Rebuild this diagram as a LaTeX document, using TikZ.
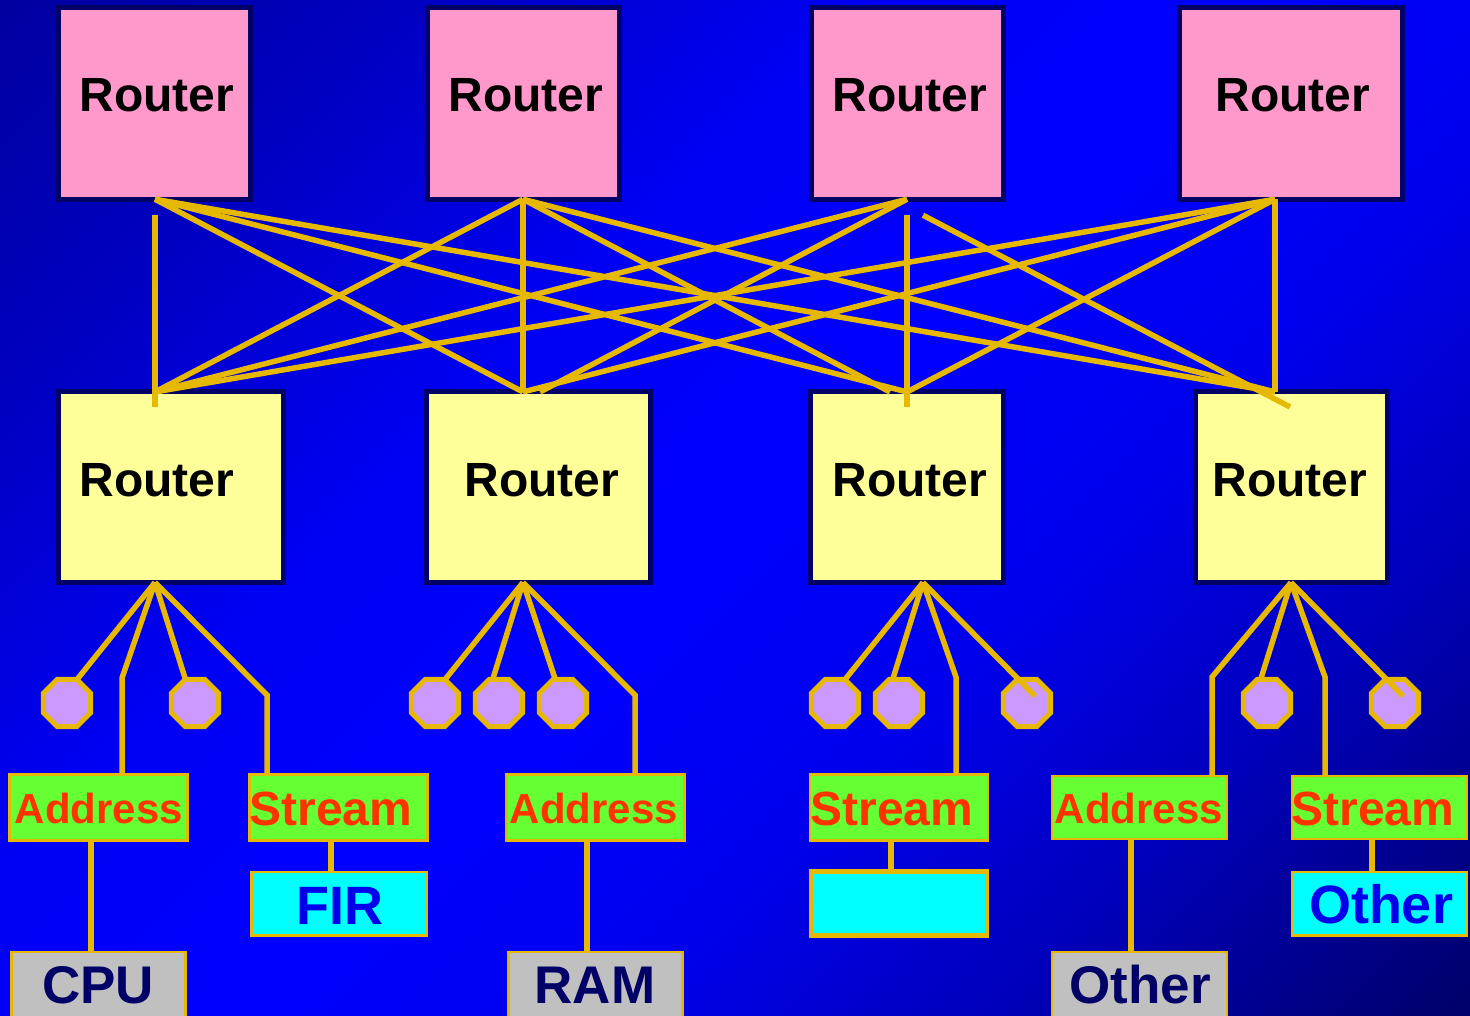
\documentclass[tikz,border=0pt]{standalone}
\usepackage{fontspec}
\setmainfont{Liberation Sans}
\usetikzlibrary{shapes.geometric,calc}

\definecolor{navyb}{RGB}{0,0,102}
\definecolor{goldl}{RGB}{230,184,0}
\definecolor{pinkr}{RGB}{255,153,204}
\definecolor{yellr}{RGB}{255,255,153}
\definecolor{greenb}{RGB}{102,255,51}
\definecolor{redt}{RGB}{255,51,0}
\definecolor{cyanb}{RGB}{0,255,255}
\definecolor{bluet}{RGB}{0,0,235}
\definecolor{grayb}{RGB}{192,192,192}
\definecolor{lav}{RGB}{204,153,255}
\definecolor{bgA}{RGB}{0,0,160}
\definecolor{bgB}{RGB}{0,0,190}
\definecolor{bgC}{RGB}{0,0,245}
\definecolor{bgD}{RGB}{0,0,255}
\definecolor{bgE}{RGB}{0,0,238}
\definecolor{bgF}{RGB}{0,0,190}
\definecolor{bgG}{RGB}{0,0,105}

\pgfdeclarehorizontalshading{bgshade}{100bp}{color(0bp)=(bgA); color(14.6bp)=(bgA); color(25.2bp)=(bgB); color(39.4bp)=(bgC); color(50bp)=(bgD); color(60.6bp)=(bgE); color(71.2bp)=(bgF); color(85.4bp)=(bgG); color(100bp)=(bgG)}

\tikzset{
  rtop/.style={draw=navyb, line width=5pt, fill=pinkr, inner sep=0pt, outer sep=0pt, minimum height=191.7pt},
  rbot/.style={draw=navyb, line width=5pt, fill=yellr, inner sep=0pt, outer sep=0pt, minimum height=190.5pt},
  rtext/.style={font=\fontsize{48}{50}\selectfont\bfseries, text=black, inner sep=0pt, anchor=base},
  gbox/.style={draw=goldl, line width=2.8pt, fill=greenb, inner sep=0pt, outer sep=0pt},
  cbox/.style={draw=goldl, line width=2.8pt, fill=cyanb, inner sep=0pt, outer sep=0pt},
  ybox/.style={draw=goldl, line width=2.8pt, fill=grayb, inner sep=0pt, outer sep=0pt},
  addrtext/.style={font=\fontsize{42}{44}\selectfont\bfseries, text=redt, inner sep=0pt, anchor=base},
  strmtext/.style={font=\fontsize{48}{50}\selectfont\bfseries, text=redt, inner sep=0pt, anchor=base},
  cyantext/.style={font=\fontsize{54}{56}\selectfont\bfseries, text=bluet, inner sep=0pt, anchor=base},
  graytext/.style={font=\fontsize{53}{55}\selectfont\bfseries, text=navyb, inner sep=0pt, anchor=base},
  oct/.style={regular polygon, regular polygon sides=8, draw=goldl, line width=5pt, fill=lav, minimum size=51pt, inner sep=0pt, outer sep=0pt},
  wire/.style={draw=goldl, line width=5.5pt}
}

\begin{document}
\begin{tikzpicture}[x=1pt, y=-1pt]
\useasboundingbox (0,0) rectangle (1470,1016);
\begin{scope}
\clip (0,0) rectangle (1470,1016);
\shade[shading=bgshade, shading angle=-45] (0,0) rectangle (1470,1016);

% top routers
\node[rtop, minimum width=192pt] (tr1) at (154.6,103.4) {};
\node[rtop, minimum width=192pt] (tr2) at (523,103.4) {};
\node[rtop, minimum width=192pt] (tr3) at (907,103.4) {};
\node[rtop, minimum width=223pt] (tr4) at (1291,103.4) {};
\node[rtext] (tr1t) at (157,112) {Router};
\node[rtext] (tr2t) at (526,112) {Router};
\node[rtext] (tr3t) at (910,112) {Router};
\node[rtext] (tr4t) at (1293,112) {Router};

% bottom routers
\node[rbot, minimum width=225pt] (br1) at (171,487.2) {};
\node[rbot, minimum width=224pt] (br2) at (538.5,487.2) {};
\node[rbot, minimum width=193pt] (br3) at (907,487.2) {};
\node[rbot, minimum width=192pt] (br4) at (1291.5,487.2) {};
\node[rtext] (br1t) at (157,496) {Router};
\node[rtext] (br2t) at (542,496) {Router};
\node[rtext] (br3t) at (910,496) {Router};
\node[rtext] (br4t) at (1290,496) {Router};

% anchor points of the crossbar
\coordinate (t1) at (155,0 |- tr1.south);
\coordinate (t2) at (523,0 |- tr2.south);
\coordinate (t3) at (907,0 |- tr3.south);
\coordinate (t4) at (1275,0 |- tr4.south);
\coordinate (b1) at (155,0 |- br1.north);
\coordinate (b2) at (523,0 |- br2.north);
\coordinate (b3) at (907,0 |- br3.north);
\coordinate (b4) at (1275,0 |- br4.north);

% crossbar wires
\draw[wire] ($(t1)+(0,16)$) -- ($(b1)+(0,15)$);
\draw[wire] (t1) -- (b2);
\draw[wire] (t1) -- (b3);
\draw[wire] (t1) -- (b4);
\draw[wire] (t2) -- (b1);
\draw[wire] (t2) -- (b2);
\draw[wire] (t2) -- ($(b3)+(-17,0)$);
\draw[wire] (t2) -- (b4);
\draw[wire] (t3) -- (b1);
\draw[wire] (t3) -- ($(b2)+(17,0)$);
\draw[wire] ($(t3)+(0,16)$) -- ($(b3)+(0,15)$);
\draw[wire] ($(t3)+(16,16)$) -- ($(b4)+(15,15)$);
\draw[wire] (t4) -- (b1);
\draw[wire] (t4) -- (b2);
\draw[wire] (t4) -- (b3);
\draw[wire] (t4) -- (b4);

% octagons
\node[oct] (a1) at (67,703) {};
\node[oct] (a2) at (195,703) {};
\node[oct] (a3) at (435,703) {};
\node[oct] (a4) at (499,703) {};
\node[oct] (a5) at (563,703) {};
\node[oct] (a6) at (835,703) {};
\node[oct] (a7) at (899,703) {};
\node[oct] (a8) at (1027,703) {};
\node[oct] (a9) at (1267,703) {};
\node[oct] (a10) at (1395,703) {};

% green boxes
\node[gbox, minimum width=178pt, minimum height=66pt] (g1) at (98.5,807.5) {};
\node[gbox, minimum width=178pt, minimum height=66pt] (g2) at (338.5,807.5) {};
\node[gbox, minimum width=178pt, minimum height=66pt] (g3) at (595.5,807.5) {};
\node[gbox, minimum width=178pt, minimum height=66pt] (g4) at (899,807.5) {};
\node[gbox, minimum width=175pt, minimum height=63pt] (g5) at (1139.5,807.5) {};
\node[gbox, minimum width=175pt, minimum height=63pt] (g6) at (1379.5,807.5) {};
\node[addrtext] (g1t) at (99,823) {Address};
\node[strmtext] (g2t) at (331,825) {Stream};
\node[addrtext] (g3t) at (594,823) {Address};
\node[strmtext] (g4t) at (892,825) {Stream};
\node[addrtext] (g5t) at (1139,823) {Address};
\node[strmtext] (g6t) at (1373,825) {Stream};

% cyan boxes
\node[cbox, minimum width=175pt, minimum height=63.5pt] (c1) at (339,903.75) {};
\node[cbox, line width=4.8pt, minimum width=176pt, minimum height=64pt] (c2) at (899,903.5) {};
\node[cbox, minimum width=175pt, minimum height=63.5pt] (c3) at (1379.5,903.75) {};
\node[cyantext] (c1t) at (340,924) {FIR};
\node[cyantext] (c3t) at (1381,923) {Other};

% gray boxes
\node[ybox, minimum width=174pt, minimum height=78pt] (cpu) at (98.5,991) {};
\node[ybox, minimum width=174pt, minimum height=78pt] (ram) at (595.5,991) {};
\node[ybox, minimum width=175pt, minimum height=78pt] (oth) at (1139.5,991) {};
\node[graytext] (cput) at (98,1003) {CPU};
\node[graytext] (ramt) at (595,1003) {RAM};
\node[graytext] (otht) at (1140,1003) {Other};

% fan-out wires
\coordinate (f1) at (155,0 |- br1.south);
\coordinate (f2) at (523,0 |- br2.south);
\coordinate (f3) at (923,0 |- br3.south);
\coordinate (f4) at (1291,0 |- br4.south);

\draw[wire] (f1) -- (a1.67.5);
\draw[wire] (f1) -- (122,678) -- (122,0 |- g1.north);
\draw[wire] (f1) -- (a2.112.5);
\draw[wire] (f1) -- (267,695) -- (267,0 |- g2.north);

\draw[wire] (f2) -- (a3.67.5);
\draw[wire] (f2) -- (a4.105);
\draw[wire] (f2) -- (a5.108);
\draw[wire] (f2) -- (635,695) -- (635,0 |- g3.north);

\draw[wire] (f3) -- (a6.67.5);
\draw[wire] (f3) -- (a7.105);
\draw[wire] (f3) -- (956,677) -- (956,0 |- g4.north);
\draw[wire] (f3) -- ([shift={(8,-7)}]a8.center);

\draw[wire] (f4) -- (1212,677) -- (1212,0 |- g5.north);
\draw[wire] (f4) -- (a9.105);
\draw[wire] (f4) -- (1325,677) -- (1325,0 |- g6.north);
\draw[wire] (f4) -- ([shift={(8,-7)}]a10.center);

% links between boxes
\draw[wire] (91,0 |- g1.south) -- (91,0 |- cpu.north);
\draw[wire] (331,0 |- g2.south) -- (331,0 |- c1.north);
\draw[wire] (587,0 |- g3.south) -- (587,0 |- ram.north);
\draw[wire] (891,0 |- g4.south) -- (891,0 |- c2.north);
\draw[wire] (1131,0 |- g5.south) -- (1131,0 |- oth.north);
\draw[wire] (1372,0 |- g6.south) -- (1372,0 |- c3.north);
\end{scope}
\end{tikzpicture}
\end{document}
